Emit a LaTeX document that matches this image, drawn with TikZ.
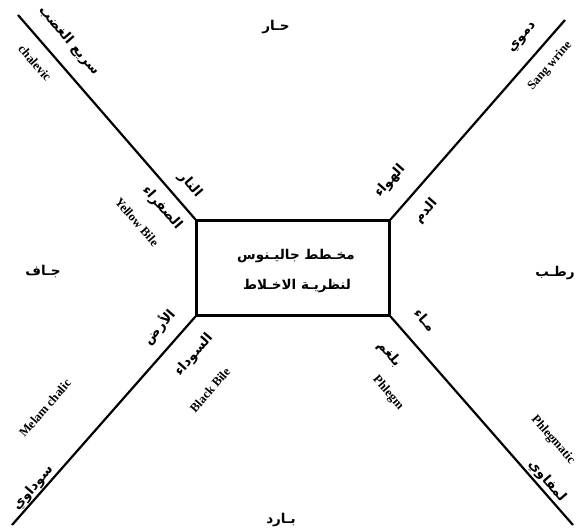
\documentclass[tikz,border=0pt]{standalone}
\usepackage{fontspec}
\setmainfont{Liberation Serif}
\newfontfamily\arfont[Script=Arabic]{DejaVu Sans}
\TeXXeTstate=1
\usetikzlibrary{positioning}

\begin{document}
\begin{tikzpicture}[x=1pt, y=-1pt,
  humour/.style={line width=2.2pt},
  entxt/.style={font=\fontsize{12.5}{14}\selectfont\bfseries, inner sep=1pt},
  artxt/.style={font=\fontsize{13.5}{15}\selectfont\arfont\bfseries, inner sep=1pt}]
  \useasboundingbox (0,0) rectangle (581,531);

  % central box
  \node[draw, line width=2.4pt, minimum width=193pt, minimum height=95pt] (box) at (293,268) {};
  \node[artxt] (title1) at (296,256) {\beginR مخـطط جاليـنوس\endR};
  \node[artxt] (title2) at (297,286) {\beginR لنظريـة الاخـلاط\endR};

  % free ends of the diagonals
  \coordinate (tlend) at (18,15);
  \coordinate (trend) at (565,20);
  \coordinate (blend) at (12,525);
  \coordinate (brend) at (573,525);

  % diagonals
  \draw[humour] (box.north west) -- (tlend);
  \draw[humour] (box.north east) -- (trend);
  \draw[humour] (box.south west) -- (blend);
  \draw[humour] (box.south east) -- (brend);

  % qualities
  \node[artxt] (hot) at (276,27) {\beginR حـار\endR};
  \node[artxt] (cold) at (281,520) {\beginR بـارد\endR};
  \node[artxt] (dry) at (43,272) {\beginR جـاف\endR};
  \node[artxt] (moist) at (555,273) {\beginR رطـب\endR};

  % fire / yellow bile
  \node[artxt, rotate=-49] (choler) at (69,41) {\beginR سريع الغضب\endR};
  \node[entxt, rotate=-49] (choleren) at (35,63) {chalevic};
  \node[artxt, rotate=-49] (fire) at (190,185) {\beginR النار\endR};
  \node[artxt, rotate=-49] (ybile) at (162,208) {\beginR الصفراء\endR};
  \node[entxt, rotate=-49] (ybileen) at (137,222) {Yellow Bile};

  % air / blood
  \node[artxt, rotate=49] (sang) at (523,38) {\beginR دموي\endR};
  \node[entxt, rotate=49] (sangen) at (550,66) {Sang wrine};
  \node[artxt, rotate=49] (air) at (390,181) {\beginR الهواء\endR};
  \node[artxt, rotate=49] (blood) at (426,211) {\beginR الدم\endR};

  % earth / black bile
  \node[artxt, rotate=49] (earth) at (159,327) {\beginR الأرض\endR};
  \node[artxt, rotate=49] (bbile) at (194,355) {\beginR السوداء\endR};
  \node[entxt, rotate=49] (bbileen) at (210,390) {Black Bile};
  \node[entxt, rotate=49] (melanen) at (45,408) {Melam chalic};
  \node[artxt, rotate=49] (melan) at (33,488) {\beginR سوداوي\endR};

  % water / phlegm
  \node[artxt, rotate=-49] (water) at (425,320) {\beginR مـاء\endR};
  \node[artxt, rotate=-49] (phlegm) at (389,354) {\beginR بلغم\endR};
  \node[entxt, rotate=-49] (phlegmen) at (388,393) {Phlegm};
  \node[entxt, rotate=-49] (phlegmaten) at (553,440) {Phlegmatic};
  \node[artxt, rotate=-49] (phlegmat) at (547,481) {\beginR لمفاوي\endR};
\end{tikzpicture}
\end{document}
